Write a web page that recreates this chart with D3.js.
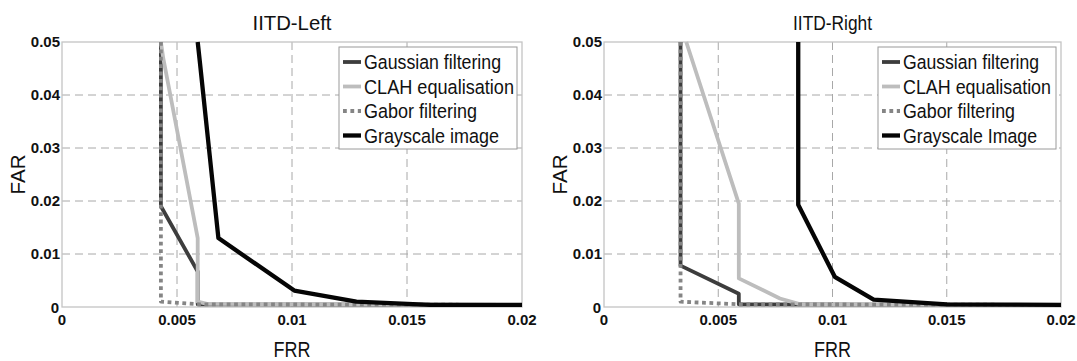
<!DOCTYPE html>
<html lang="en">
<head>
<meta charset="UTF-8">
<title>IITD FAR vs FRR</title>
<script src="https://cdnjs.cloudflare.com/ajax/libs/d3/7.8.5/d3.min.js"></script>
<style>
  body { margin: 0; background: #fff; font-family: "Liberation Sans", Arial, sans-serif; }
  svg text { fill: #111; }
</style>
</head>
<body>
<svg id="chart" width="1077" height="361"></svg>
<script>
// ---- data (FRR, FAR) ----
const panelTitles = ["IITD-Left", "IITD-Right"];
const seriesNames = ["Gaussian filtering", "CLAH equalisation", "Gabor filtering", "Grayscale image"];
const seriesNamesRight = ["Gaussian filtering", "CLAH equalisation", "Gabor filtering", "Grayscale Image"];
const xTicks = [0, 0.005, 0.01, 0.015, 0.02];
const yTicks = [0, 0.01, 0.02, 0.03, 0.04, 0.05];
const xTickLabels = ["0", "0.005", "0.01", "0.015", "0.02"];
const yTickLabels = ["0", "0.01", "0.02", "0.03", "0.04", "0.05"];

const leftGaussian  = [[0.0043,0.05],[0.0043,0.019],[0.0059,0.0067],[0.0059,0.0005],[0.02,0.0004]];
const leftClah      = [[0.0043,0.05],[0.0044,0.047],[0.0059,0.013],[0.0059,0.001],[0.0063,0.0006],[0.02,0.0004]];
const leftGabor     = [[0.0043,0.05],[0.0043,0.001],[0.006,0.0005],[0.02,0.0004]];
const leftGray      = [[0.0059,0.05],[0.006,0.046],[0.0068,0.013],[0.0101,0.0031],[0.0128,0.001],[0.016,0.0004],[0.02,0.0004]];

const rightGaussian = [[0.00335,0.05],[0.00335,0.0078],[0.0059,0.0025],[0.0059,0.0005],[0.02,0.0004]];
const rightClah     = [[0.0036,0.05],[0.0059,0.0195],[0.0059,0.0054],[0.0077,0.0016],[0.0086,0.0005],[0.02,0.0004]];
const rightGabor    = [[0.00335,0.05],[0.00335,0.001],[0.006,0.0005],[0.02,0.0004]];
const rightGray     = [[0.0085,0.05],[0.0085,0.0193],[0.0101,0.0057],[0.0118,0.0014],[0.015,0.0005],[0.02,0.0004]];

// line looks, same order as seriesNames
const styles = [
  {color: "#3d3d3d", width: 3.8, dash: null},
  {color: "#bdbdbd", width: 3.8, dash: null},
  {color: "#858585", width: 3.8, dash: "3.8,3.6"},
  {color: "#050505", width: 4.3, dash: null}
];

const panels = [
  {title: panelTitles[0], x0: 62, x1: 522, names: seriesNames, series: [leftGaussian, leftClah, leftGabor, leftGray],
   legendWidths: [137, 150, 113, 135]},
  {title: panelTitles[1], x0: 604, x1: 1061, names: seriesNamesRight, series: [rightGaussian, rightClah, rightGabor, rightGray],
   legendWidths: [136, 148, 112, 134]}
];
const y0 = 42, y1 = 307;

const svg = d3.select("#chart");

panels.forEach(p => {
  const x = d3.scaleLinear().domain([0, 0.02]).range([p.x0, p.x1]);
  const y = d3.scaleLinear().domain([0, 0.05]).range([y1, y0]);
  const g = svg.append("g");

  // grid
  g.selectAll(".gx").data(xTicks.slice(1, -1)).join("line")
    .attr("x1", d => x(d)).attr("x2", d => x(d)).attr("y1", y0).attr("y2", y1)
    .attr("stroke", "#a8a8a8").attr("stroke-width", 1).attr("stroke-dasharray", "8,5");
  g.selectAll(".gy").data(yTicks.slice(1, -1)).join("line")
    .attr("x1", p.x0).attr("x2", p.x1).attr("y1", d => y(d)).attr("y2", d => y(d))
    .attr("stroke", "#a8a8a8").attr("stroke-width", 1).attr("stroke-dasharray", "8,5");

  // frame
  g.append("rect").attr("x", p.x0).attr("y", y0).attr("width", p.x1 - p.x0).attr("height", y1 - y0)
    .attr("fill", "none").attr("stroke", "#c4c4c4").attr("stroke-width", 1.3);

  // curves
  const line = d3.line().x(d => x(d[0])).y(d => y(d[1]));
  p.series.forEach((s, i) => {
    g.append("path").datum(s).attr("d", line)
      .attr("fill", "none").attr("stroke", styles[i].color).attr("stroke-width", styles[i].width)
      .attr("stroke-linejoin", "round")
      .attr("stroke-dasharray", styles[i].dash);
  });

  // tick labels
  g.selectAll(".xl").data(xTicks).join("text")
    .attr("x", d => x(d)).attr("y", 325)
    .attr("text-anchor", "middle").attr("font-size", 15).attr("font-weight", "bold")
    .text((d, i) => xTickLabels[i]);
  g.selectAll(".yl").data(yTicks).join("text")
    .attr("x", d => d === 0 ? p.x0 - 3 : p.x0 - 2)
    .attr("y", d => d === 0 ? y(d) + 6 : y(d) + 5)
    .attr("text-anchor", "end").attr("font-size", 15).attr("font-weight", "bold")
    .text((d, i) => yTickLabels[i]);

  // title and axis labels
  const cx = (p.x0 + p.x1) / 2;
  g.append("text").attr("x", cx).attr("y", 30).attr("text-anchor", "middle")
    .attr("font-size", 20).attr("textLength", 79).attr("lengthAdjust", "spacingAndGlyphs")
    .text(p.title);
  g.append("text").attr("x", cx).attr("y", 356.5).attr("text-anchor", "middle")
    .attr("font-size", 22).attr("textLength", 37).attr("lengthAdjust", "spacingAndGlyphs")
    .text("FRR");
  g.append("text").attr("transform", `translate(${p.x0 - 37},${(y0 + y1) / 2}) rotate(-90)`)
    .attr("text-anchor", "middle")
    .attr("font-size", 20).attr("textLength", 40).attr("lengthAdjust", "spacingAndGlyphs")
    .text("FAR");

  // legend
  const lx = p.x1 - 183, ly = 47;
  const lg = g.append("g");
  lg.append("rect").attr("x", lx).attr("y", ly).attr("width", 178).attr("height", 102)
    .attr("fill", "#fff").attr("stroke", "#9a9a9a").attr("stroke-width", 1);
  p.names.forEach((name, i) => {
    const yy = ly + 15 + i * 24.5;
    lg.append("line").attr("x1", lx + 4).attr("x2", lx + 22).attr("y1", yy).attr("y2", yy)
      .attr("stroke", styles[i].color).attr("stroke-width", styles[i].width)
      .attr("stroke-dasharray", styles[i].dash);
    lg.append("text").attr("x", lx + 25).attr("y", yy + 7)
      .attr("font-size", 20.5).attr("textLength", p.legendWidths[i]).attr("lengthAdjust", "spacingAndGlyphs")
      .text(name);
  });
});
</script>
</body>
</html>
